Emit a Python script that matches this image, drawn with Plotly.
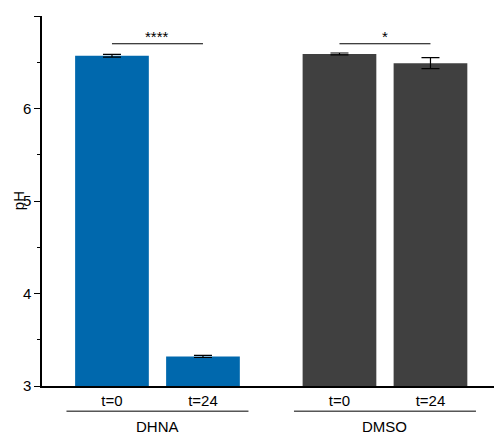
import plotly.graph_objects as go

tick_labels = ["t=0", "t=24", "t=0", "t=24"]
groups = ["DHNA", "DMSO"]
ph_values = [6.57, 3.32, 6.59, 6.49]
ph_errors = [0.015, 0.012, 0.01, 0.06]
colors = ["#0068ad", "#0068ad", "#404040", "#404040"]
signif = ["****", "*"]
xpos = [0, 1, 2.5, 3.5]

fig = go.Figure()
fig.add_trace(go.Bar(
    x=xpos, y=ph_values, width=0.81, marker=dict(color=colors, line=dict(width=0)),
    error_y=dict(type="data", array=ph_errors, color="black", thickness=1.2, width=9),
    base=0,
))
font = dict(family="Liberation Sans, Arial", size=15, color="black")
for i, s in enumerate(signif):
    x0, x1 = xpos[2 * i], xpos[2 * i + 1]
    fig.add_shape(type="line", x0=x0, x1=x1, y0=6.70, y1=6.70, line=dict(color="black", width=1))
    fig.add_annotation(x=(x0 + x1) / 2, y=6.70, text=s, showarrow=False, yanchor="bottom",
                       yshift=-3, font=font)
for i, g in enumerate(groups):
    x0, x1 = xpos[2 * i], xpos[2 * i + 1]
    fig.add_shape(type="line", x0=x0 - 0.5, x1=x1 + 0.5, xref="x", yref="paper",
                  y0=-0.068, y1=-0.068, line=dict(color="black", width=1))
    fig.add_annotation(x=(x0 + x1) / 2, y=-0.082, yref="paper", text=g, showarrow=False,
                       yanchor="top", font=font)
fig.add_annotation(x=-0.075, xref="paper", y=0.5, yref="paper", text="pH", textangle=-90,
                   showarrow=False, font=font)

fig.update_layout(
    width=494, height=432, margin=dict(l=34, r=2, t=8, b=54, autoexpand=False),
    plot_bgcolor="white", paper_bgcolor="white", showlegend=False, font=font,
    xaxis=dict(range=[-0.769, 4.264], tickmode="array", tickvals=xpos, ticktext=tick_labels,
               showline=True, linecolor="black", linewidth=1.5, ticks="", showgrid=False,
               zeroline=False, tickfont=font, automargin=False),
    yaxis=dict(range=[3, 7], tickvals=[3, 4, 5, 6, 7], showline=True, linecolor="black",
               linewidth=1.5, ticks="outside", ticklen=6, tickcolor="black", showgrid=False,
               zeroline=False, tickfont=font, automargin=False,
               minor=dict(tickvals=[3.5, 4.5, 5.5, 6.5], ticks="outside", ticklen=3, tickcolor="black")),
)
fig.write_html("out.html")
